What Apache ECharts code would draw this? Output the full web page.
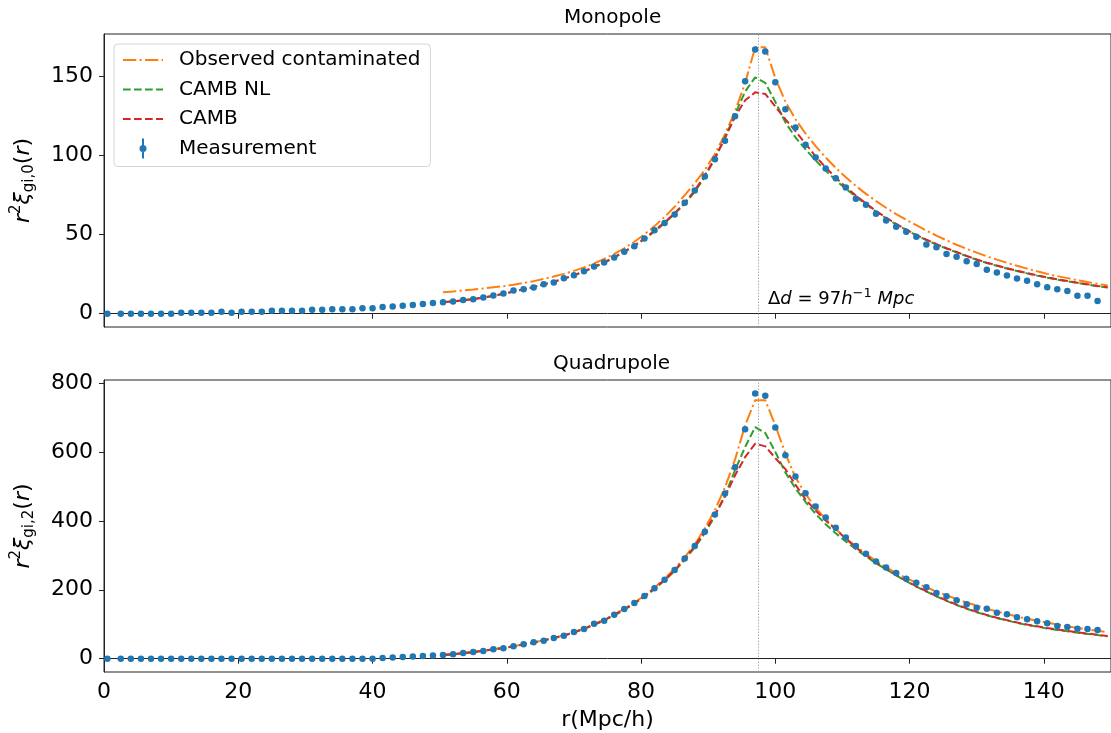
<!DOCTYPE html>
<html>
<head>
<meta charset="utf-8">
<title>Monopole / Quadrupole</title>
<script src="https://cdn.jsdelivr.net/npm/echarts@6/dist/echarts.min.js"></script>
<style>
  html, body { margin: 0; padding: 0; background: #fff; }
  #chart { width: 1111px; height: 733px; }
</style>
</head>
<body>
<div id="chart"></div>
<script>
var FONT = 'DejaVu Sans'

// measurement bins (r in Mpc/h)
var rMeas = [0.5, 2.5, 4, 5.5, 7, 8.5, 10, 11.5, 13, 14.5,
  16, 17.5, 19, 20.5, 22, 23.5, 25, 26.5, 28, 29.5,
  31, 32.5, 34, 35.5, 37, 38.5, 40, 41.5, 43, 44.5,
  46, 47.5, 49, 50.5, 52, 53.5, 55, 56.5, 58, 59.5,
  61, 62.5, 64, 65.5, 67, 68.5, 70, 71.5, 73, 74.5,
  76, 77.5, 79, 80.5, 82, 83.5, 85, 86.5, 88, 89.5,
  91, 92.5, 94, 95.5, 97, 98.5, 100, 101.5, 103, 104.5,
  106, 107.5, 109, 110.5, 112, 113.5, 115, 116.5, 118, 119.5,
  121, 122.5, 124, 125.5, 127, 128.5, 130, 131.5, 133, 134.5,
  136, 137.5, 139, 140.5, 142, 143.5, 145, 146.5, 148]

var monoMeas = [0, 0, 0, 0, 0, 0, 0, 0.6, 0.6, 0.6,
  0.6, 1.3, 0.6, 1.3, 1.3, 1.3, 1.9, 1.9, 1.9, 1.9,
  2.5, 2.5, 2.9, 2.9, 2.9, 3.5, 3.5, 4.2, 4.6, 5.0,
  5.5, 6.1, 6.7, 7.3, 7.8, 8.6, 9.2, 10.3, 11.6, 12.8,
  14.7, 15.5, 16.6, 18.7, 19.8, 22.5, 24.4, 26.9, 29.9, 32.4,
  35.6, 39.2, 42.7, 47.6, 52.8, 57.3, 62.8, 70.2, 77.9, 86.8,
  97.7, 109.4, 124.9, 147.0, 167.1, 165.8, 146.4, 129.3, 117.8, 106.8,
  98.8, 91.8, 85.7, 79.8, 72.7, 68.9, 63.2, 59.0, 55.0, 51.8,
  48.7, 43.8, 42.1, 37.7, 36.0, 33.2, 31.4, 27.8, 26.1, 24.2,
  22.3, 20.9, 18.7, 16.8, 15.4, 14.3, 11.4, 11.4, 8.0]

var quadMeas = [0, 0, 0, 0, 0, 0, 0, 0, 0, 0,
  0, 0, 0, 0, 0, 0, 0, 0, 0, 0,
  0, 0, 0, 0, 0, 0, 0, 2, 3.5, 5,
  6.5, 8, 9.5, 10.7, 12.7, 16.5, 19.4, 22.3, 27.2, 30.1,
  35.9, 41.7, 47.5, 52.2, 60.0, 66.7, 77.4, 86.1, 101.4, 110.1,
  127.5, 144.1, 161.4, 181.7, 204.1, 229.0, 257.1, 291.0, 326.7, 368.1,
  418.6, 479.4, 555.7, 665.8, 769.3, 762.6, 670.7, 590.4, 528.7, 480.3,
  441.7, 409.9, 379.7, 351.9, 326.7, 304.3, 282.3, 264.9, 248.4, 231.9,
  220.3, 207.0, 190.4, 180.9, 169.3, 157.7, 147.8, 144.9, 133.3, 128.7,
  120.0, 114.2, 108.4, 102.6, 94.8, 91.9, 87.0, 86.1, 83.2]

// model curves
var rModel = [50.5, 52, 53.5, 55, 56.5, 58, 59.5, 61, 62.5, 64,
  65.5, 67, 68.5, 70, 71.5, 73, 74.5, 76, 77.5, 79,
  80.5, 82, 83.5, 85, 86.5, 88, 89.5, 91, 92.5, 94,
  95.5, 97, 98.5, 100, 101.5, 103, 104.5, 106, 107.5, 109,
  110.5, 112, 113.5, 115, 116.5, 118, 119.5, 121, 122.5, 124,
  125.5, 127, 128.5, 130, 131.5, 133, 134.5, 136, 137.5, 139,
  140.5, 142, 143.5, 145, 146.5, 148, 149.5]

var monoObs = [13.6, 14.1, 14.7, 15.3, 16.0, 16.7, 17.4, 18.3, 19.4, 20.6,
  22.0, 23.5, 25.2, 27.1, 29.3, 31.8, 34.6, 37.8, 41.4, 45.5,
  50.2, 55.4, 61.2, 67.6, 75.0, 82.5, 91.0, 101.0, 113.5, 128.0,
  146.0, 168.5, 168.5, 149.0, 134.0, 123.0, 114.0, 106.0, 98.8, 92.3,
  86.3, 80.8, 75.8, 71.2, 67.0, 63.0, 59.4, 56.0, 52.6, 49.4,
  46.4, 43.6, 41.0, 38.6, 36.3, 34.2, 32.2, 30.3, 28.5, 26.8,
  25.2, 23.8, 22.5, 21.2, 20.0, 18.9, 17.8]

var monoCambNL = [7.3, 7.8, 8.5, 9.2, 10.2, 11.3, 12.6, 14.0, 15.4, 16.9,
  18.5, 20.2, 22.1, 24.2, 26.6, 29.3, 32.2, 35.4, 38.9, 42.8,
  47.1, 52.0, 57.3, 63.2, 69.5, 77.0, 86.5, 98.0, 111.5, 126.0,
  140.5, 149.5, 146.0, 134.0, 121.0, 111.5, 104.0, 97.0, 90.5, 84.5,
  79.0, 74.0, 69.3, 64.6, 60.4, 56.5, 53.0, 49.6, 46.6, 43.8,
  41.2, 38.8, 36.4, 34.1, 32.1, 30.3, 28.6, 27.0, 25.5, 24.1,
  22.8, 21.6, 20.5, 19.4, 18.4, 17.4, 16.5]

var monoCamb = [7.3, 7.8, 8.5, 9.2, 10.2, 11.3, 12.6, 14.0, 15.4, 16.9,
  18.5, 20.2, 22.2, 24.4, 26.9, 29.7, 32.6, 35.8, 39.3, 43.2,
  47.6, 52.5, 57.8, 63.6, 70.2, 78.0, 87.5, 98.5, 111.0, 124.5,
  135.0, 140.0, 139.0, 131.0, 123.0, 115.5, 107.5, 99.5, 92.5, 86.0,
  80.2, 74.8, 69.8, 65.0, 60.8, 56.8, 53.2, 49.8, 46.8, 44.0,
  41.4, 39.0, 36.6, 34.3, 32.3, 30.5, 28.8, 27.2, 25.7, 24.3,
  23.0, 21.8, 20.7, 19.6, 18.6, 17.6, 16.7]

var quadObs = [11.5, 13.5, 16.5, 19.8, 23.5, 27.5, 31.5, 36.5, 42, 47.5,
  53.5, 60.5, 68, 77, 88, 100, 113, 128, 145, 163,
  183, 206, 232, 261, 294, 332, 378, 431, 497, 578,
  677, 750, 750, 677, 595, 526, 478, 438, 405, 376,
  350, 326, 304, 283, 265, 249, 234, 220, 207, 195,
  184, 173, 163, 154, 145, 137, 129.5, 122.5, 116, 110,
  104.5, 99, 94, 89.5, 85, 81, 77]

var quadCambNL = [11, 13, 16, 19.3, 23, 27, 31, 36, 41.5, 47,
  53, 60, 67.5, 76, 86.5, 98, 111, 126, 142, 160,
  180, 202, 227, 254, 287, 323, 364, 414, 474, 547,
  614, 672, 655, 600, 540, 494, 455, 420, 390, 364,
  340, 318, 297, 277, 259, 242, 225, 209, 195, 181,
  168, 156, 145, 135, 126, 118, 111, 104, 98, 93,
  88, 83.5, 79.5, 75.5, 72, 68.5, 65]

var quadCamb = [11, 13, 16, 19.3, 23, 27, 31, 36, 41.5, 47,
  53, 60, 67.5, 76, 87, 99, 112, 127, 143, 161,
  181, 204, 229, 257, 290, 327, 369, 418, 470, 532,
  585, 624, 616, 582, 550, 505, 462, 430, 401, 375,
  348, 323, 300, 279, 261, 243, 226, 210, 196, 182,
  169, 157, 146, 136, 127, 119, 112, 105, 99, 94,
  89, 84.5, 80.5, 76.5, 73, 69.5, 66]

var xTicks = [0, 20, 40, 60, 80, 100, 120, 140]
var monoTicks = [0, 50, 100, 150]
var quadTicks = [0, 200, 400, 600, 800]
var peakR = 97.4

var BLUE = '#1f77b4'
var ORANGE = '#ff7f0e'
var GREEN = '#2ca02c'
var RED = '#d62728'
var DASH = [7.7, 3.3]
var DASHDOT = [13.3, 3.3, 2.1, 3.3]
// errorbar marker for the legend: bar above, dot, bar below
var ERR_ICON = 'path://M2.5,0 L4.5,0 L4.5,6.8 L2.5,6.8 Z' +
  ' M0,10 A3.5,3.5 0 1,1 7,10 A3.5,3.5 0 1,1 0,10 Z' +
  ' M2.5,13.2 L4.5,13.2 L4.5,20 L2.5,20 Z'
var NO_SYMBOL = { color: 'rgba(0,0,0,0)', borderWidth: 0, opacity: 0 }

function pairs (xs, ys) {
  return xs.map(function (x, i) { return [x, ys[i]] })
}

var nameRich = {
  it: { fontFamily: FONT, fontSize: 22, fontStyle: 'italic', color: '#000', lineHeight: 28 },
  n: { fontFamily: FONT, fontSize: 22, color: '#000', lineHeight: 28 },
  sup: { fontFamily: FONT, fontSize: 15, color: '#000', verticalAlign: 'top' },
  sub: { fontFamily: FONT, fontSize: 15, color: '#000', verticalAlign: 'bottom' }
}

function xAxisOpt (g, withLabels) {
  var ax = {
    gridIndex: g,
    type: 'value',
    min: 0,
    max: 150,
    axisLine: { show: true, lineStyle: { color: '#222', width: 1 } },
    axisTick: { show: true, length: 5, customValues: xTicks, lineStyle: { color: '#222' } },
    axisLabel: { show: withLabels, customValues: xTicks, margin: 9, fontSize: 22, fontFamily: FONT, color: '#000' },
    splitLine: { show: false }
  }
  if (withLabels) {
    ax.name = 'r(Mpc/h)'
    ax.nameLocation = 'middle'
    ax.nameGap = 37
    ax.nameTextStyle = { fontSize: 22, fontFamily: FONT, color: '#000' }
  }
  return ax
}

function yAxisOpt (g, min, max, ticks, sub) {
  return {
    gridIndex: g,
    type: 'value',
    min: min,
    max: max,
    name: '{it|r}{sup|2}{it|ξ}{sub|' + sub + '}{n|(}{it|r}{n|)}',
    nameLocation: 'middle',
    nameRotate: 90,
    nameGap: 67,
    nameTextStyle: { rich: nameRich },
    axisLine: { show: true, lineStyle: { color: '#222', width: 1 } },
    axisTick: { show: true, length: 5, customValues: ticks, lineStyle: { color: '#222' } },
    axisLabel: { customValues: ticks, margin: 11, fontSize: 22, fontFamily: FONT, color: '#000' },
    splitLine: { show: false }
  }
}

function modelSeries (name, color, dash, g, ys) {
  return {
    name: name,
    type: 'line',
    xAxisIndex: g,
    yAxisIndex: g,
    data: pairs(rModel, ys),
    symbol: 'none',
    showSymbol: false,
    lineStyle: { color: color, width: 2, type: dash },
    itemStyle: { color: color },
    z: 2
  }
}

function measSeries (g, ys) {
  return {
    name: 'Measurement',
    type: 'scatter',
    xAxisIndex: g,
    yAxisIndex: g,
    data: pairs(rMeas, ys),
    symbolSize: 6.5,
    symbolKeepAspect: true,
    itemStyle: { color: BLUE, opacity: 1 },
    z: 3,
    markLine: {
      silent: true,
      symbol: ['none', 'none'],
      label: { show: false },
      lineStyle: { color: '#9a9a9a', width: 0.8, type: [1.5, 1.5] },
      data: [{ xAxis: peakR }]
    }
  }
}

var titleStyle = { fontSize: 20, fontWeight: 'normal', fontFamily: FONT, color: '#000' }

var option = {
  animation: false,
  backgroundColor: '#fff',
  title: [
    { text: 'Monopole', left: 564, top: 8, padding: 0, textStyle: titleStyle },
    { text: 'Quadrupole', left: 553, top: 354, padding: 0, textStyle: titleStyle }
  ],
  grid: [
    { left: 104, top: 34, width: 1016, height: 293, show: true, borderColor: '#222', borderWidth: 1, backgroundColor: 'transparent' },
    { left: 104, top: 380, width: 1016, height: 292, show: true, borderColor: '#222', borderWidth: 1, backgroundColor: 'transparent' }
  ],
  legend: {
    orient: 'vertical',
    left: 114,
    top: 44,
    padding: [6, 10, 8, 8],
    itemWidth: 40,
    itemHeight: 20,
    itemGap: 9.5,
    selectedMode: false,
    backgroundColor: 'rgba(255,255,255,0.8)',
    borderColor: '#d4d4d4',
    borderWidth: 1,
    borderRadius: 4,
    textStyle: { fontSize: 20, fontFamily: FONT, color: '#000', lineHeight: 20, padding: [0, 0, 0, 11] },
    data: [
      { name: 'Observed contaminated', itemStyle: NO_SYMBOL },
      { name: 'CAMB NL', itemStyle: NO_SYMBOL },
      { name: 'CAMB', itemStyle: NO_SYMBOL },
      { name: 'Measurement', icon: ERR_ICON }
    ]
  },
  xAxis: [xAxisOpt(0, false), xAxisOpt(1, true)],
  yAxis: [
    yAxisOpt(0, -8.4, 176.9, monoTicks, 'gi,0'),
    yAxisOpt(1, -38.5, 808.5, quadTicks, 'gi,2')
  ],
  graphic: [
    {
      type: 'text',
      left: 768,
      top: 287,
      silent: true,
      style: {
        text: '{n|Δ}{it|d}{n| = 97}{it|h}{sup|−1}{it| Mpc}',
        rich: {
          it: { fontFamily: FONT, fontSize: 18, fontStyle: 'italic', fill: '#000', lineHeight: 24 },
          n: { fontFamily: FONT, fontSize: 18, fill: '#000', lineHeight: 24 },
          sup: { fontFamily: FONT, fontSize: 13, fill: '#000', verticalAlign: 'top' }
        }
      }
    }
  ],
  series: [
    modelSeries('Observed contaminated', ORANGE, DASHDOT, 0, monoObs),
    modelSeries('CAMB NL', GREEN, DASH, 0, monoCambNL),
    modelSeries('CAMB', RED, DASH, 0, monoCamb),
    measSeries(0, monoMeas),
    modelSeries('Observed contaminated', ORANGE, DASHDOT, 1, quadObs),
    modelSeries('CAMB NL', GREEN, DASH, 1, quadCambNL),
    modelSeries('CAMB', RED, DASH, 1, quadCamb),
    measSeries(1, quadMeas)
  ]
}

var myChart = echarts.init(document.getElementById('chart'))
myChart.setOption(option)
</script>
</body>
</html>
